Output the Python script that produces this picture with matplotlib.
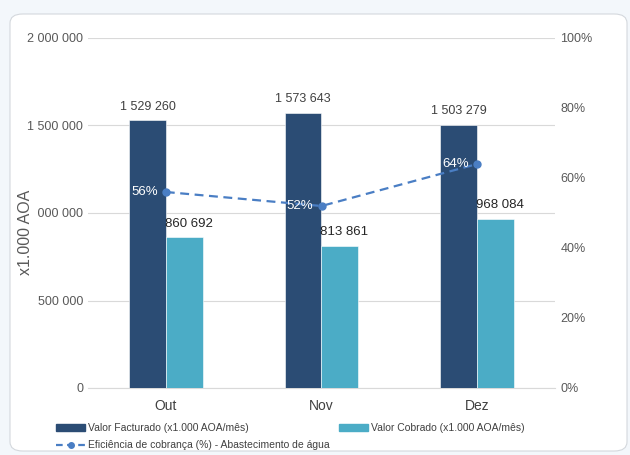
import matplotlib.pyplot as plt
from matplotlib.patches import FancyBboxPatch
from matplotlib.lines import Line2D
from matplotlib.patches import Patch
import numpy as np

months = ['Out', 'Nov', 'Dez']
facturado = [1529260, 1573643, 1503279]
cobrado = [860692, 813861, 968084]
eficiencia = [56, 52, 64]

dark = '#2b4c74'
light = '#4bacc6'
line_c = '#4a7ec4'
grid_c = '#d9d9d9'
txt_c = '#595959'

plt.rcParams['font.family'] = ['Liberation Sans Narrow', 'Liberation Sans', 'DejaVu Sans']

def fmt(v):
    return f'{v:,}'.replace(',', ' ')

fig = plt.figure(figsize=(6.3, 4.55), dpi=100)
fig.patch.set_facecolor('#f3f7fb')

# cartão branco de fundo
card = FancyBboxPatch((10 / 630, 4 / 455), 617 / 630, 437 / 455,
                      boxstyle='round,pad=0,rounding_size=0.02',
                      transform=fig.transFigure, facecolor='white',
                      edgecolor='#d4d8dd', linewidth=0.8, zorder=-5)
fig.patches.append(card)

ax = fig.add_axes([88 / 630, 1 - 388 / 455, 467 / 630, 350 / 455])
ax.set_facecolor('none')
x = np.arange(len(months))
w = 0.236

ax.bar(x - w / 2, facturado, w, color=dark, edgecolor='white', linewidth=0.4, zorder=3)
ax.bar(x + w / 2, cobrado, w, color=light, edgecolor='white', linewidth=0.4, zorder=3)

for i in range(len(months)):
    ax.text(x[i] - w / 2, facturado[i] + 45000, fmt(facturado[i]), ha='center', va='bottom',
            fontsize=9, color='#404040')
    ax.text(x[i] + w / 2 + 0.03, cobrado[i] + 45000, fmt(cobrado[i]), ha='center', va='bottom',
            fontsize=9.5, color='#262626')

ax.set_xlim(-0.5, 2.5)
ax.set_ylim(0, 2000000)
ax.set_yticks([0, 500000, 1000000, 1500000, 2000000])
ax.set_yticklabels([fmt(v) for v in [0, 500000, 1000000, 1500000, 2000000]])
ax.set_xticks(x)
ax.set_xticklabels(months)
ax.grid(axis='y', color=grid_c, linewidth=0.8, zorder=0)
for s in ['top', 'right', 'left']:
    ax.spines[s].set_visible(False)
ax.spines['bottom'].set_color(grid_c)
ax.tick_params(axis='both', length=0, labelsize=9, colors=txt_c)
ax.tick_params(axis='x', pad=8, labelsize=10, labelcolor='#404040')
fig.text(26 / 630, 1 - 232 / 455, 'x1.000 AOA', rotation=90, ha='center', va='center',
         fontsize=11.5, color=txt_c, bbox=dict(facecolor='white', edgecolor='none', pad=1))

ax2 = ax.twinx()
ax2.set_ylim(0, 100)
ax2.set_yticks([0, 20, 40, 60, 80, 100])
ax2.set_yticklabels([f'{v}%' for v in [0, 20, 40, 60, 80, 100]])
ax2.tick_params(axis='y', length=0, labelsize=9, colors=txt_c, pad=4)
for s in ax2.spines.values():
    s.set_visible(False)
ax2.plot(x, eficiencia, color=line_c, linestyle=(0, (4, 2.5)), linewidth=1.6,
         marker='o', markersize=5, zorder=5)
for i in range(len(months)):
    ax2.text(x[i] - w / 2 - 0.02, eficiencia[i], f'{eficiencia[i]}%', ha='center', va='center',
             fontsize=9.5, color='white', zorder=6)

handles = [Patch(color=dark), Patch(color=light),
           Line2D([0], [0], color=line_c, linestyle=(0, (3, 2)), linewidth=1.6,
                  marker='o', markersize=4)]
labels = ['Valor Facturado (x1.000 AOA/mês)', 'Valor Cobrado (x1.000 AOA/mês)',
          'Eficiência de cobrança (%) - Abastecimento de água']
fig.legend(handles[:2], labels[:2], loc='upper left', bbox_to_anchor=(52 / 630, 1 - 419 / 455),
           ncol=2, frameon=False, fontsize=7.5, handlelength=2.8, handleheight=0.6,
           handletextpad=0.3, columnspacing=8.6, labelcolor='#404040', borderaxespad=0)
fig.legend(handles[2:], labels[2:], loc='upper left', bbox_to_anchor=(52 / 630, 1 - 436 / 455),
           frameon=False, fontsize=7.5, handlelength=2.8, handletextpad=0.3,
           labelcolor='#404040', borderaxespad=0)

fig.savefig('out.png', dpi=100, facecolor=fig.get_facecolor())
